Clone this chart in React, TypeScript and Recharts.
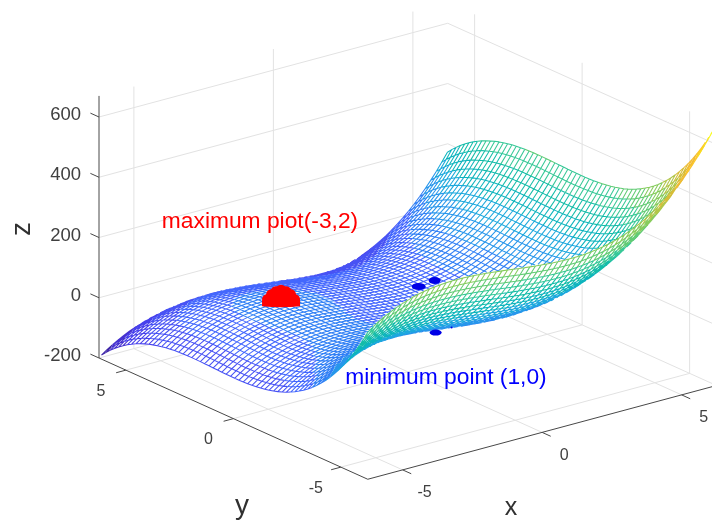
import { ComposedChart, Line, XAxis, YAxis } from "recharts";

const xValues = [
  -6.2, -6, -5.8, -5.6, -5.4, -5.2, -5, -4.8, -4.6, -4.4, -4.2, -4, -3.8, -3.6, -3.4, -3.2, -3, -2.8, -2.6,
  -2.4, -2.2, -2, -1.8, -1.6, -1.4, -1.2, -1, -0.8, -0.6, -0.4, -0.2, 0, 0.2, 0.4, 0.6, 0.8, 1, 1.2, 1.4,
  1.6, 1.8, 2, 2.2, 2.4, 2.6, 2.8, 3, 3.2, 3.4, 3.6, 3.8, 4, 4.2, 4.4, 4.6, 4.8, 5, 5.2, 5.4, 5.6, 5.8, 6,
  6.2,
];
const yValues = xValues;

// height of the surface along x and along y; a mesh node is the sum of the two
const zAlongX = [
  -67.21, -54, -41.99, -31.14, -21.38, -12.69, -5, 1.73, 7.54, 12.5, 16.63, 20, 22.65, 24.62, 25.98, 26.75,
  27, 26.77, 26.1, 25.06, 23.67, 22, 20.09, 17.98, 15.74, 13.39, 11, 8.61, 6.26, 4.02, 1.91, 0, -1.67,
  -3.06, -4.1, -4.77, -5, -4.75, -3.98, -2.62, -0.65, 2, 5.37, 9.5, 14.46, 20.27, 27, 34.69, 43.38, 53.14,
  63.99, 76, 89.21, 103.66, 119.42, 136.51, 155, 174.93, 196.34, 219.3, 243.83, 270, 297.85,
];
const zAlongY = [
  353.65, 324, 296.03, 269.7, 244.94, 221.73, 200, 179.71, 160.82, 143.26, 127.01, 112, 98.19, 85.54, 73.98,
  63.49, 54, 45.47, 37.86, 31.1, 25.17, 20, 15.55, 11.78, 8.62, 6.05, 4, 2.43, 1.3, 0.54, 0.13, 0, 0.11,
  0.42, 0.86, 1.41, 2, 2.59, 3.14, 3.58, 3.89, 4, 3.87, 3.46, 2.7, 1.57, 0, -2.05, -4.62, -7.78, -11.55,
  -16, -21.17, -27.1, -33.86, -41.47, -50, -59.49, -69.98, -81.54, -94.19, -108, -123.01,
];

const xTicks = [-5, 0, 5];
const yTicks = [-5, 0, 5];
const zTicks = [-200, 0, 200, 400, 600];

const maximumPoint = { x: -3, y: 2, z: 31 };
const minimumPoint = { x: 1, y: 0, z: -5 };

const parula = [
  "#3e26a8", "#4531d0", "#4740ec", "#4752f4", "#4367fd", "#2f7ff5", "#2796eb", "#1ca8dd", "#0db4bd",
  "#14bca9", "#37c897", "#62cb74", "#87cc5d", "#b1c648", "#d6bd38", "#f2bb32", "#fcc82b", "#f8e01e",
  "#f9fb15",
];

const WIDTH = 712;
const HEIGHT = 520;
const X_MIN = -6.25;
const X_MAX = 6.25;
const Y_MIN = -6.25;
const Y_MAX = 6.25;
const Z_MIN = -200;
const Z_TOP = 670;
const Z_COLOR_MIN = -190;
const Z_COLOR_MAX = 651;

type Pt = { px: number; py: number | null; text?: string };

// the MATLAB view boiled down to an orthographic projection
function project(x: number, y: number, z: number) {
  return {
    px: 99 + (x - X_MIN) * 27.9 + (Y_MAX - y) * 21.5,
    py: 358 - (x - X_MIN) * 7.5 + (Y_MAX - y) * 9.7 - (z - Z_MIN) * 0.30125,
  };
}

// z buffer: along a view ray the higher z is the nearer one
const zBuffer = new Float32Array(WIDTH * HEIGHT).fill(-1e9);

function fillTriangle(a: number[], b: number[], c: number[]) {
  const pa = project(a[0], a[1], a[2]);
  const pb = project(b[0], b[1], b[2]);
  const pc = project(c[0], c[1], c[2]);
  const det = (pb.py - pc.py) * (pa.px - pc.px) + (pc.px - pb.px) * (pa.py - pc.py);
  if (Math.abs(det) < 1e-6) return;
  const x0 = Math.max(0, Math.floor(Math.min(pa.px, pb.px, pc.px)));
  const x1 = Math.min(WIDTH - 1, Math.ceil(Math.max(pa.px, pb.px, pc.px)));
  const y0 = Math.max(0, Math.floor(Math.min(pa.py, pb.py, pc.py)));
  const y1 = Math.min(HEIGHT - 1, Math.ceil(Math.max(pa.py, pb.py, pc.py)));
  for (let y = y0; y <= y1; y++) {
    for (let x = x0; x <= x1; x++) {
      const l1 = ((pb.py - pc.py) * (x - pc.px) + (pc.px - pb.px) * (y - pc.py)) / det;
      const l2 = ((pc.py - pa.py) * (x - pc.px) + (pa.px - pc.px) * (y - pc.py)) / det;
      const l3 = 1 - l1 - l2;
      if (l1 < -0.02 || l2 < -0.02 || l3 < -0.02) continue;
      const z = l1 * a[2] + l2 * b[2] + l3 * c[2];
      const k = y * WIDTH + x;
      if (z > zBuffer[k]) zBuffer[k] = z;
    }
  }
}

const node = (i: number, j: number) => [xValues[i], yValues[j], zAlongX[i] + zAlongY[j]];

for (let i = 0; i < xValues.length - 1; i++) {
  for (let j = 0; j < yValues.length - 1; j++) {
    fillTriangle(node(i, j), node(i + 1, j), node(i + 1, j + 1));
    fillTriangle(node(i, j), node(i + 1, j + 1), node(i, j + 1));
  }
}

function isVisible(x: number, y: number, z: number) {
  const p = project(x, y, z);
  const cx = Math.round(p.px);
  const cy = Math.round(p.py);
  if (cx < 0 || cy < 0 || cx >= WIDTH || cy >= HEIGHT) return true;
  return z >= zBuffer[cy * WIDTH + cx] - 9;
}

// adds the unhidden runs of a 3D segment to a series, with a null between runs
function addSegment(out: Pt[], a: number[], b: number[]) {
  const pa = project(a[0], a[1], a[2]);
  const pb = project(b[0], b[1], b[2]);
  const steps = Math.max(2, Math.ceil(Math.hypot(pb.px - pa.px, pb.py - pa.py) / 2));
  let runStart = -1;
  const flush = (end: number) => {
    if (runStart < 0) return;
    const s = runStart / steps;
    const e = end / steps;
    out.push({ px: pa.px + (pb.px - pa.px) * s, py: pa.py + (pb.py - pa.py) * s });
    out.push({ px: pa.px + (pb.px - pa.px) * e, py: pa.py + (pb.py - pa.py) * e });
    out.push({ px: pa.px + (pb.px - pa.px) * e, py: null });
    runStart = -1;
  };
  for (let n = 0; n <= steps; n++) {
    const t = n / steps;
    const on = isVisible(a[0] + (b[0] - a[0]) * t, a[1] + (b[1] - a[1]) * t, a[2] + (b[2] - a[2]) * t);
    if (on && runStart < 0) runStart = n;
    if (!on) flush(n - 1);
  }
  flush(steps);
}

const meshSeries: Pt[][] = parula.map(() => []);

function addMeshEdge(a: number[], b: number[]) {
  const t = ((a[2] + b[2]) / 2 - Z_COLOR_MIN) / (Z_COLOR_MAX - Z_COLOR_MIN);
  const bucket = Math.max(0, Math.min(parula.length - 1, Math.round(t * (parula.length - 1))));
  addSegment(meshSeries[bucket], a, b);
}

for (let i = 0; i < xValues.length; i++) {
  for (let j = 0; j < yValues.length; j++) {
    if (i + 1 < xValues.length) addMeshEdge(node(i, j), node(i + 1, j));
    if (j + 1 < yValues.length) addMeshEdge(node(i, j), node(i, j + 1));
  }
}

const gridLines: Pt[] = [];
xTicks.forEach((x) => {
  addSegment(gridLines, [x, Y_MIN, Z_MIN], [x, Y_MAX, Z_MIN]);
  addSegment(gridLines, [x, Y_MAX, Z_MIN], [x, Y_MAX, Z_TOP]);
});
yTicks.forEach((y) => {
  addSegment(gridLines, [X_MIN, y, Z_MIN], [X_MAX, y, Z_MIN]);
  addSegment(gridLines, [X_MAX, y, Z_MIN], [X_MAX, y, Z_TOP]);
});
zTicks.forEach((z) => {
  addSegment(gridLines, [X_MIN, Y_MAX, z], [X_MAX, Y_MAX, z]);
  addSegment(gridLines, [X_MAX, Y_MAX, z], [X_MAX, Y_MIN, z]);
});

const axisLines: Pt[] = [];
function addAxis(a: number[], b: number[]) {
  const pa = project(a[0], a[1], a[2]);
  const pb = project(b[0], b[1], b[2]);
  axisLines.push(pa, pb, { px: pb.px, py: null });
}
addAxis([X_MIN, Y_MAX, Z_MIN], [X_MIN, Y_MAX, Z_TOP]);
addAxis([X_MIN, Y_MIN, Z_MIN], [X_MIN, Y_MAX, Z_MIN]);
addAxis([X_MIN, Y_MIN, Z_MIN], [X_MAX, Y_MIN, Z_MIN]);
xTicks.forEach((x) => addAxis([x, Y_MIN, Z_MIN], [x, Y_MIN - 0.4, Z_MIN]));
yTicks.forEach((y) => addAxis([X_MIN, y, Z_MIN], [X_MIN - 0.35, y, Z_MIN]));
zTicks.forEach((z) => addAxis([X_MIN, Y_MAX, z], [X_MIN, Y_MAX + 0.4, z]));

const font = "'Liberation Sans', Arial, sans-serif";

function shifted(x: number, y: number, z: number, dx: number, dy: number, text: string): Pt {
  const p = project(x, y, z);
  return { px: p.px + dx, py: p.py + dy, text };
}

const tickLabels: Pt[] = [
  ...xTicks.map((x) => shifted(x, Y_MIN, Z_MIN, 22, 22, String(x))),
  ...yTicks.map((y) => shifted(X_MIN, y, Z_MIN, -25, 20, String(y))),
];
const zTickLabels: Pt[] = zTicks.map((z) => shifted(X_MIN, Y_MAX, z, -18, -3.5, String(z)));

function TickText(props: any) {
  const { cx, cy, payload } = props;
  return (
    <text key={payload.text + cx} x={cx} y={cy} fontFamily={font} fontSize={16} fill="#404040" textAnchor="middle" dominantBaseline="central">
      {payload.text}
    </text>
  );
}

function ZTickText(props: any) {
  const { cx, cy, payload } = props;
  return (
    <text key={payload.text} x={cx} y={cy} fontFamily={font} fontSize={18.5} fill="#404040" textAnchor="end" dominantBaseline="central">
      {payload.text}
    </text>
  );
}

function MaximumMarker(props: any) {
  const { cx, cy } = props;
  return (
    <path
      key="max"
      transform={`translate(${cx},${cy + 1})`}
      d="M-19,0 L-19,-6 A6,6 0 0 1 -15,-12 A6,6 0 0 1 -10,-17 A6,6 0 0 1 -4,-20 A6,6 0 0 1 4,-20 A6,6 0 0 1 10,-17 A6,6 0 0 1 15,-12 A6,6 0 0 1 19,-6 L19,0 Q0,2 -19,0 Z"
      fill="#ff0000"
    />
  );
}

function MinimumMarker(props: any) {
  const { cx, cy } = props;
  return (
    <g key="min" transform={`translate(${cx},${cy})`} fill="#0000e6">
      <ellipse cx={-17} cy={-19} rx={7} ry={3.5} />
      <ellipse cx={-1} cy={-25} rx={6} ry={3.5} />
      <ellipse cx={0} cy={27} rx={6} ry={3} />
      <circle cx={16} cy={22} r={1} />
    </g>
  );
}

const titles = [
  { px: 260, py: 228, text: "maximum piot(-3,2)", color: "#ff0000", size: 22.8, rotate: 0 },
  { px: 446, py: 384, text: "minimum point (1,0)", color: "#0000ff", size: 22.8, rotate: 0 },
  { px: 242, py: 514, text: "y", color: "#303030", size: 28, rotate: 0 },
  { px: 511, py: 514.5, text: "x", color: "#303030", size: 25, rotate: 0 },
  { px: 30, py: 229, text: "z", color: "#303030", size: 28, rotate: -90 },
];

function TitleText(props: any) {
  const { cx, cy, payload } = props;
  return (
    <text
      key={payload.text}
      x={cx}
      y={cy}
      fontFamily={font}
      fontSize={payload.size}
      fill={payload.color}
      textAnchor="middle"
      transform={payload.rotate ? `rotate(${payload.rotate} ${cx} ${cy})` : undefined}
    >
      {payload.text}
    </text>
  );
}

export default function App() {
  return (
    <div style={{ position: "absolute", left: 0, top: 0, width: WIDTH, height: HEIGHT, background: "#fff", filter: "blur(0.4px)" }}>
      <ComposedChart width={WIDTH} height={HEIGHT} margin={{ top: 0, right: 0, bottom: 0, left: 0 }}>
        <XAxis type="number" dataKey="px" domain={[0, WIDTH]} allowDataOverflow hide />
        <YAxis type="number" domain={[0, HEIGHT]} reversed allowDataOverflow hide />
        <Line data={gridLines} dataKey="py" stroke="#e2e2e2" strokeWidth={1} dot={false} activeDot={false} isAnimationActive={false} />
        <Line data={axisLines} dataKey="py" stroke="#484848" strokeWidth={1} dot={false} activeDot={false} isAnimationActive={false} />
        {meshSeries.map((points, i) => (
          <Line key={i} data={points} dataKey="py" stroke={parula[i]} strokeWidth={1.05} dot={false} activeDot={false} isAnimationActive={false} />
        ))}
        <Line data={[project(maximumPoint.x, maximumPoint.y, maximumPoint.z)]} dataKey="py" stroke="none" dot={MaximumMarker} activeDot={false} isAnimationActive={false} />
        <Line data={[project(minimumPoint.x, minimumPoint.y, minimumPoint.z)]} dataKey="py" stroke="none" dot={MinimumMarker} activeDot={false} isAnimationActive={false} />
        <Line data={tickLabels} dataKey="py" stroke="none" dot={TickText} activeDot={false} isAnimationActive={false} />
        <Line data={zTickLabels} dataKey="py" stroke="none" dot={ZTickText} activeDot={false} isAnimationActive={false} />
        <Line data={titles} dataKey="py" stroke="none" dot={TitleText} activeDot={false} isAnimationActive={false} />
      </ComposedChart>
    </div>
  );
}
